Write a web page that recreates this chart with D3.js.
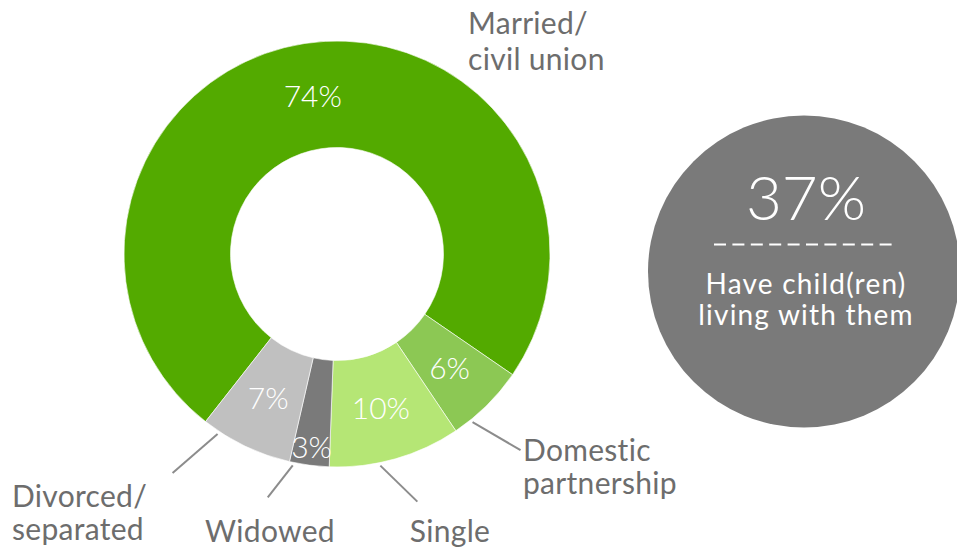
<!DOCTYPE html>
<html>
<head>
  <meta charset="utf-8">
  <title>Relationship status</title>
  <script src="https://cdn.jsdelivr.net/npm/d3@7"></script>
  <style>
    body { margin: 0; background: #fff; }
    svg { display: block; font-family: "Lato", "Open Sans", sans-serif; }
    .pct { fill: #fff; font-weight: 300; }
    .cat { fill: #6d6d6d; font-size: 30px; letter-spacing: 0.3px; }
    .leader { stroke: #8c8c8c; stroke-width: 2; fill: none; }
  </style>
</head>
<body>
  <div id="chart"></div>
  <script>
    // data
    var categories = ["Married/civil union", "Domestic partnership", "Single", "Widowed", "Divorced/separated"];
    var values = [74, 6, 10, 3, 7];
    var categoryLines = [["Married/", "civil union"], ["Domestic", "partnership"], ["Single"], ["Widowed"], ["Divorced/", "separated"]];
    var colors = ["#53aa00", "#8cc854", "#b5e675", "#7a7a7a", "#c0c0c0"];

    var childShare = 37;
    var childLabel = ["Have child(ren)", "living with them"];

    // layout
    var width = 957, height = 552;
    var cx = 337, cy = 254, outerR = 213, innerR = 106.5;
    var pctRadius = [160, 160, 160, 195, 160];
    // leader: fraction along slice, end offset; text: x, y, anchor
    var leaders = [null, { t: 0.77, dx: 48, dy: 28 }, { t: 0.62, dx: 37, dy: 36 }, { t: 0.9, dx: -25, dy: 32 }, { t: 0.82, dx: -45, dy: 39 }];
    var catPos = [
      { x: 468, y: 34, anchor: "start", lh: 36 },
      { x: 523, y: 461, anchor: "start", lh: 33 },
      { x: 450, y: 542, anchor: "middle", lh: 32 },
      { x: 270, y: 542, anchor: "middle", lh: 32 },
      { x: 12, y: 507, anchor: "start", lh: 33 }
    ];
    var bubble = { x: 804, y: 271.5, r: 156 };

    var svg = d3.select("#chart").append("svg")
      .attr("width", width)
      .attr("height", height);

    var deg = Math.PI / 180;
    var pie = d3.pie().sort(null)
      .startAngle(-141.9 * deg)
      .endAngle(218.1 * deg);

    var arc = d3.arc().innerRadius(innerR).outerRadius(outerR);

    var slices = pie(values);

    var donut = svg.append("g").attr("transform", "translate(" + cx + "," + cy + ")");

    donut.selectAll("path.slice")
      .data(slices)
      .enter().append("path")
      .attr("class", "slice")
      .attr("d", arc)
      .style("fill", function (d, i) { return colors[i]; })
      .style("stroke", "#fff")
      .style("stroke-width", 0.6);

    donut.selectAll("text.pct")
      .data(slices)
      .enter().append("text")
      .attr("class", "pct")
      .attr("x", function (d, i) {
        var a = (d.startAngle + d.endAngle) / 2;
        return pctRadius[i] * Math.sin(a);
      })
      .attr("y", function (d, i) {
        var a = (d.startAngle + d.endAngle) / 2;
        return -pctRadius[i] * Math.cos(a);
      })
      .attr("dy", "0.36em")
      .attr("text-anchor", "middle")
      .style("font-size", "30px")
      .text(function (d) { return d.value + "%"; });

    // leader lines
    donut.selectAll("line.leader")
      .data(slices.filter(function (d, i) { return leaders[i]; }))
      .enter().append("line")
      .attr("class", "leader")
      .each(function (d) {
        var L = leaders[d.index];
        var a = d.startAngle + L.t * (d.endAngle - d.startAngle);
        var r = outerR + 3;
        var x1 = r * Math.sin(a), y1 = -r * Math.cos(a);
        d3.select(this)
          .attr("x1", x1).attr("y1", y1)
          .attr("x2", x1 + L.dx).attr("y2", y1 + L.dy);
      });

    // category labels
    var cats = svg.selectAll("text.cat")
      .data(categoryLines)
      .enter().append("text")
      .attr("class", "cat")
      .attr("text-anchor", function (d, i) { return catPos[i].anchor; });

    cats.each(function (lines, i) {
      var p = catPos[i];
      d3.select(this).selectAll("tspan")
        .data(lines)
        .enter().append("tspan")
        .attr("x", p.x)
        .attr("y", function (l, j) { return p.y + j * p.lh; })
        .text(function (l) { return l; });
    });

    // children bubble
    var g = svg.append("g").attr("transform", "translate(" + bubble.x + "," + bubble.y + ")");
    g.append("circle").attr("r", bubble.r).style("fill", "#7a7a7a");
    g.append("text")
      .attr("x", 2)
      .attr("y", -52)
      .attr("text-anchor", "middle")
      .style("fill", "#fff")
      .style("font-size", "62px")
      .style("font-weight", 300)
      .text(childShare + "%");
    g.append("line")
      .attr("x1", -90).attr("x2", 88)
      .attr("y1", -27).attr("y2", -27)
      .style("stroke", "#fff")
      .style("stroke-width", 2)
      .style("stroke-dasharray", "12,6.4");
    g.append("text")
      .attr("text-anchor", "middle")
      .style("fill", "#fff")
      .style("font-size", "28px")
      .style("letter-spacing", "1.2px")
      .selectAll("tspan")
      .data(childLabel)
      .enter().append("tspan")
      .attr("x", 2)
      .attr("y", function (d, i) { return 22 + i * 31; })
      .text(function (d) { return d; });
  </script>
</body>
</html>
